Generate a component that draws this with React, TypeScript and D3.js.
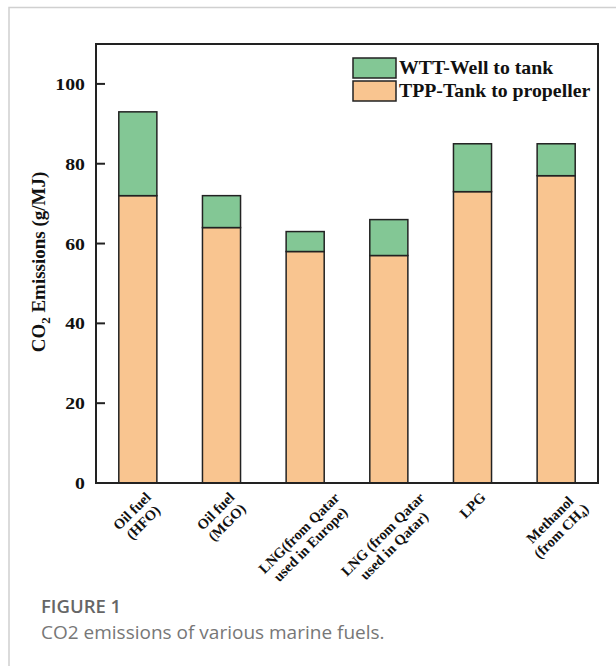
import React, { useEffect, useRef } from "react";
import * as d3 from "d3";

const categories: string[][] = [
  ["Oil fuel", "(HFO)"],
  ["Oil fuel", "(MGO)"],
  ["LNG(from Qatar", "used in Europe)"],
  ["LNG (from Qatar", "used in Qatar)"],
  ["LPG"],
  ["Methanol", "(from CH|4|)"],
];
const tppValues = [72, 64, 58, 57, 73, 77];
const totalValues = [93, 72, 63, 66, 85, 85];
const yTicks = [0, 20, 40, 60, 80, 100];
const seriesNames = ["WTT-Well to tank", "TPP-Tank to propeller"];

const W = 616, H = 666;
const plot = { left: 96, right: 598, top: 44, bottom: 483 };
const GREEN = "#83c795";
const ORANGE = "#f9c590";
const SERIF = "'Liberation Serif', 'Times New Roman', serif";
const SX = 1.13;

export default function App() {
  const ref = useRef<SVGSVGElement>(null);
  useEffect(() => {
    const svg = d3.select(ref.current);
    svg.selectAll("*").remove();

    // card border
    svg.append("path").attr("d", `M9,${H} V7.5 H${W}`).attr("fill", "none").attr("stroke", "#d0d0d0").attr("stroke-width", 1.5);

    const x = d3.scaleBand<number>().domain(d3.range(categories.length)).range([plot.left, plot.right]).padding(0);
    const y = d3.scaleLinear().domain([0, 110]).range([plot.bottom, plot.top]);
    const barW = x.bandwidth() * 0.455;

    const g = svg.append("g");
    categories.forEach((_, i) => {
      const cx = x(i)! + x.bandwidth() / 2;
      g.append("rect").attr("x", cx - barW / 2).attr("y", y(tppValues[i])).attr("width", barW)
        .attr("height", y(0) - y(tppValues[i])).attr("fill", ORANGE).attr("stroke", "#222").attr("stroke-width", 1.5);
      g.append("rect").attr("x", cx - barW / 2).attr("y", y(totalValues[i])).attr("width", barW)
        .attr("height", y(tppValues[i]) - y(totalValues[i])).attr("fill", GREEN).attr("stroke", "#222").attr("stroke-width", 1.5);
    });

    g.append("rect").attr("x", plot.left).attr("y", plot.top).attr("width", plot.right - plot.left)
      .attr("height", plot.bottom - plot.top).attr("fill", "none").attr("stroke", "#222").attr("stroke-width", 2);

    yTicks.forEach((t) => {
      g.append("line").attr("x1", plot.left).attr("x2", plot.left + 9).attr("y1", y(t)).attr("y2", y(t))
        .attr("stroke", "#222").attr("stroke-width", 2);
      g.append("text").attr("transform", `translate(85,${y(t)}) scale(${SX},1)`).attr("dy", "0.35em").attr("text-anchor", "end")
        .attr("font-family", SERIF).attr("font-weight", "bold").attr("font-size", 17.5).attr("fill", "#111").text(String(t));
    });

    const yl = g.append("text").attr("transform", `translate(45,262) rotate(-90)`).attr("text-anchor", "middle")
      .attr("font-family", SERIF).attr("font-weight", "bold").attr("font-size", 19).attr("fill", "#111");
    yl.append("tspan").text("CO");
    yl.append("tspan").attr("font-size", 13).attr("dy", 5).text("2");
    yl.append("tspan").attr("dy", -5).text(" Emissions (g/MJ)");

    categories.forEach((lines, i) => {
      const cx = x(i)! + x.bandwidth() / 2;
      const lg = g.append("g");
      const inner = lg.append("g").attr("transform", "rotate(-45)");
      const lh = 16;
      lines.forEach((ln, j) => {
        const t = inner.append("text").attr("x", 0).attr("y", (j - (lines.length - 1) / 2) * lh).attr("dy", "0.35em")
          .attr("text-anchor", "middle").attr("font-family", SERIF).attr("font-weight", "bold").attr("font-size", 14.5).attr("fill", "#111");
        const parts = ln.split("|");
        parts.forEach((p, k) => {
          if (!p) return;
          if (k % 2 === 1) t.append("tspan").attr("font-size", 10).attr("dy", 3).text(p);
          else t.append("tspan").attr("dy", k > 0 ? -3 : 0).text(p);
        });
      });
      const bb = (lg.node() as SVGGElement).getBBox();
      const top = 489;
      lg.attr("transform", `translate(${cx - (bb.x + bb.width / 2)},${top - bb.y})`);
    });

    const lx = 353, ly = 58;
    seriesNames.forEach((name, i) => {
      g.append("rect").attr("x", lx).attr("y", ly + i * 23).attr("width", 43).attr("height", 20)
        .attr("fill", i === 0 ? GREEN : ORANGE).attr("stroke", "#222").attr("stroke-width", 1.5);
      g.append("text").attr("transform", `translate(399,${ly + i * 23 + 10}) scale(1.07,1)`).attr("dy", "0.35em")
        .attr("font-family", SERIF).attr("font-weight", "bold").attr("font-size", 18.5).attr("fill", "#111").text(name);
    });

    svg.append("text").attr("x", 41).attr("y", 613).attr("font-family", "'Open Sans', sans-serif").attr("font-weight", 600)
      .attr("font-size", 18.5).attr("fill", "#666").text("FIGURE 1");
    svg.append("text").attr("x", 41).attr("y", 639).attr("font-family", "'Open Sans', sans-serif").attr("font-weight", 400)
      .attr("font-size", 19).attr("fill", "#777").text("CO2 emissions of various marine fuels.");
  }, []);

  return (
    <svg ref={ref} width={W} height={H} style={{ position: "absolute", left: 0, top: 0, background: "#fff" }} />
  );
}
